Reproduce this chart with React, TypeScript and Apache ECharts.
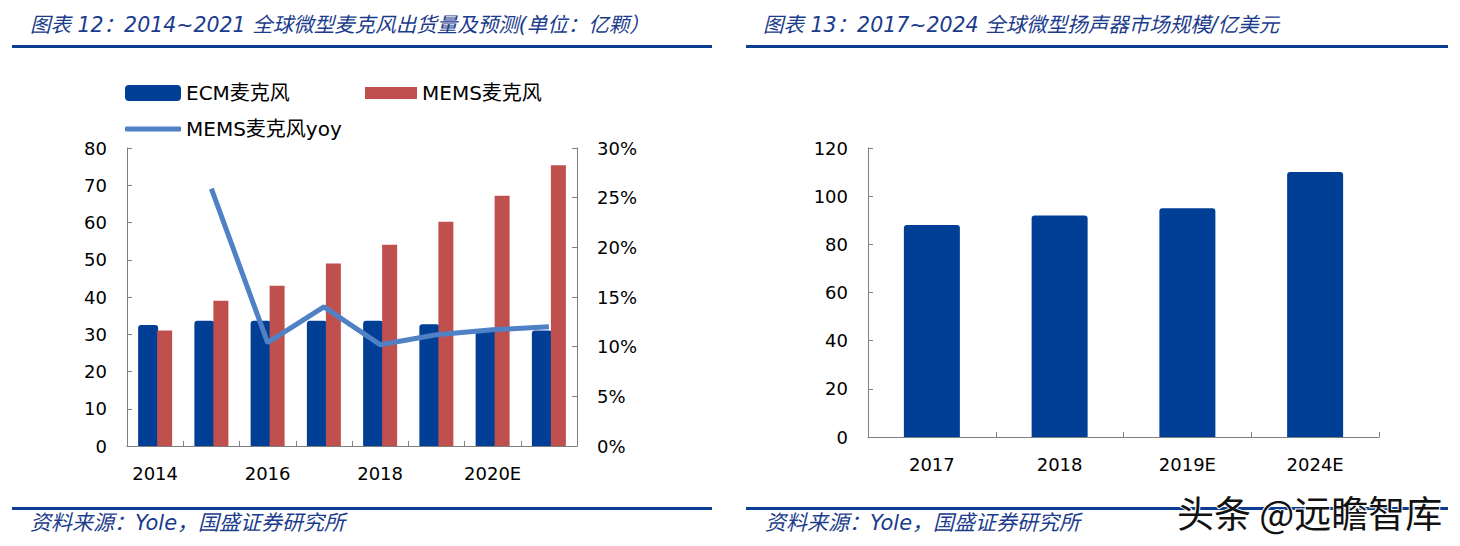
import React, { useEffect, useRef } from "react";
import * as echarts from "echarts";

// ---- Data: left chart (2014~2021 microphone shipments, 亿颗) ----
const years = ["2014", "2015", "2016", "2017", "2018", "2019E", "2020E", "2021E"];
const ecmMic = [32.5, 33.6, 33.6, 33.6, 33.6, 32.7, 31.2, 31.0];
const memsMic = [31, 39, 43, 49, 54, 60.2, 67.2, 75.4];
const memsYoy = [null, 0.259, 0.104, 0.14, 0.102, 0.112, 0.117, 0.12];

// ---- Data: right chart (2017~2024 micro speaker market, 亿美元) ----
const speakerYears = ["2017", "2018", "2019E", "2024E"];
const speakerMarket = [88, 92, 95, 110];

const FONT = "'DejaVu Sans', 'Noto Sans CJK SC', sans-serif";
const CJK = "'Noto Sans CJK SC', 'DejaVu Sans', sans-serif";
const BLUE = "#003F95";
const RED = "#C0504D";
const LINE = "#4F81C4";
const AXIS = "#7F7F7F";
const TITLE = "#1B3C8C";
const RULE = "#0B3D91";

export default function App() {
  const ref = useRef<HTMLDivElement>(null);

  useEffect(() => {
    if (!ref.current) return;
    const chart = echarts.init(ref.current, undefined, { renderer: "svg" });

    const axisLabel = { color: "#000", fontSize: 18, fontFamily: FONT };
    const axisLine = { show: true, lineStyle: { color: AXIS, width: 1 } };
    const axisTick = { show: true, inside: true, length: 5, lineStyle: { color: AXIS } };
    const legendText = { color: "#000", fontSize: 20, fontFamily: FONT };

    const option: any = {
      animation: false,
      backgroundColor: "#fff",
      legend: [
        {
          data: ["ECM麦克风"],
          left: 125,
          top: 83,
          padding: 0,
          itemWidth: 56,
          itemHeight: 16,
          itemGap: 0,
          icon: "roundRect",
          textStyle: legendText,
          selectedMode: false,
        },
        {
          data: ["MEMS麦克风"],
          left: 365,
          top: 83,
          padding: 0,
          itemWidth: 52,
          itemHeight: 12,
          icon: "rect",
          textStyle: legendText,
          selectedMode: false,
        },
        {
          data: [{ name: "MEMS麦克风yoy", icon: "roundRect", itemStyle: { color: LINE } }],
          left: 125,
          top: 119,
          padding: 0,
          itemWidth: 56,
          itemHeight: 5,
          textStyle: legendText,
          selectedMode: false,
        },
      ],
      grid: [
        { left: 127, top: 148, width: 450, height: 298 },
        { left: 868, top: 148, width: 511, height: 289 },
      ],
      xAxis: [
        {
          type: "category",
          gridIndex: 0,
          data: years,
          axisLine,
          axisTick: { ...axisTick, interval: 0 },
          axisLabel: { ...axisLabel, interval: 1, margin: 18 },
        },
        {
          type: "category",
          gridIndex: 1,
          data: speakerYears,
          axisLine,
          axisTick: { ...axisTick, interval: 0 },
          axisLabel: { ...axisLabel, interval: 0, margin: 18 },
        },
      ],
      yAxis: [
        {
          type: "value",
          gridIndex: 0,
          min: 0,
          max: 80,
          interval: 10,
          axisLine,
          axisTick,
          splitLine: { show: false },
          axisLabel: { ...axisLabel, margin: 20 },
        },
        {
          type: "value",
          gridIndex: 0,
          position: "right",
          min: 0,
          max: 0.3,
          interval: 0.05,
          axisLine,
          axisTick,
          splitLine: { show: false },
          axisLabel: {
            ...axisLabel,
            margin: 20,
            formatter: (v: number) => Math.round(v * 100) + "%",
          },
        },
        {
          type: "value",
          gridIndex: 1,
          min: 0,
          max: 120,
          interval: 20,
          axisLine,
          axisTick,
          splitLine: { show: false },
          axisLabel: { ...axisLabel, margin: 20 },
        },
      ],
      series: [
        {
          name: "ECM麦克风",
          type: "bar",
          xAxisIndex: 0,
          yAxisIndex: 0,
          data: ecmMic,
          barWidth: 20,
          barGap: "-5%",
          itemStyle: { color: BLUE, borderRadius: [3, 3, 0, 0] },
        },
        {
          name: "MEMS麦克风",
          type: "bar",
          xAxisIndex: 0,
          yAxisIndex: 0,
          data: memsMic,
          barWidth: 15,
          itemStyle: { color: RED },
        },
        {
          name: "MEMS麦克风yoy",
          type: "line",
          xAxisIndex: 0,
          yAxisIndex: 1,
          data: memsYoy,
          showSymbol: false,
          symbol: "none",
          lineStyle: { color: LINE, width: 5 },
          itemStyle: { color: LINE },
          z: 5,
        },
        {
          name: "微型扬声器市场规模",
          type: "bar",
          xAxisIndex: 1,
          yAxisIndex: 2,
          data: speakerMarket,
          barWidth: 56,
          itemStyle: { color: BLUE, borderRadius: [3, 3, 0, 0] },
        },
      ],
      graphic: [
        {
          type: "text",
          x: 30,
          y: 25,
          style: {
            text: "图表 12：2014~2021 全球微型麦克风出货量及预测(单位：亿颗）",
            fill: TITLE,
            fontSize: 20.5,
            fontStyle: "italic",
            fontFamily: FONT,
            textVerticalAlign: "middle",
          },
        },
        {
          type: "text",
          x: 763,
          y: 25,
          style: {
            text: "图表 13：2017~2024 全球微型扬声器市场规模/亿美元",
            fill: TITLE,
            fontSize: 20.5,
            fontStyle: "italic",
            fontFamily: FONT,
            textVerticalAlign: "middle",
          },
        },
        { type: "rect", shape: { x: 12, y: 45, width: 700, height: 3 }, style: { fill: RULE } },
        { type: "rect", shape: { x: 746, y: 45, width: 702, height: 3 }, style: { fill: RULE } },
        { type: "rect", shape: { x: 12, y: 507, width: 700, height: 3 }, style: { fill: RULE } },
        { type: "rect", shape: { x: 746, y: 507, width: 702, height: 3 }, style: { fill: RULE } },
        {
          type: "text",
          x: 30,
          y: 523,
          style: {
            text: "资料来源：Yole，国盛证券研究所",
            fill: TITLE,
            fontSize: 21,
            fontStyle: "italic",
            fontFamily: FONT,
            textVerticalAlign: "middle",
          },
        },
        {
          type: "text",
          x: 765,
          y: 523,
          style: {
            text: "资料来源：Yole，国盛证券研究所",
            fill: TITLE,
            fontSize: 21,
            fontStyle: "italic",
            fontFamily: FONT,
            textVerticalAlign: "middle",
          },
        },
        {
          type: "text",
          x: 1177,
          y: 512,
          z: 100,
          style: {
            text: "头条 @远瞻智库",
            fill: "#111",
            stroke: "#fff",
            lineWidth: 2,
            fontSize: 37,
            fontFamily: CJK,
            textVerticalAlign: "middle",
          },
        },
      ],
    };

    chart.setOption(option);
    return () => chart.dispose();
  }, []);

  return (
    <div
      ref={ref}
      style={{ position: "fixed", left: 0, top: 0, width: 1460, height: 546, background: "#fff" }}
    />
  );
}
